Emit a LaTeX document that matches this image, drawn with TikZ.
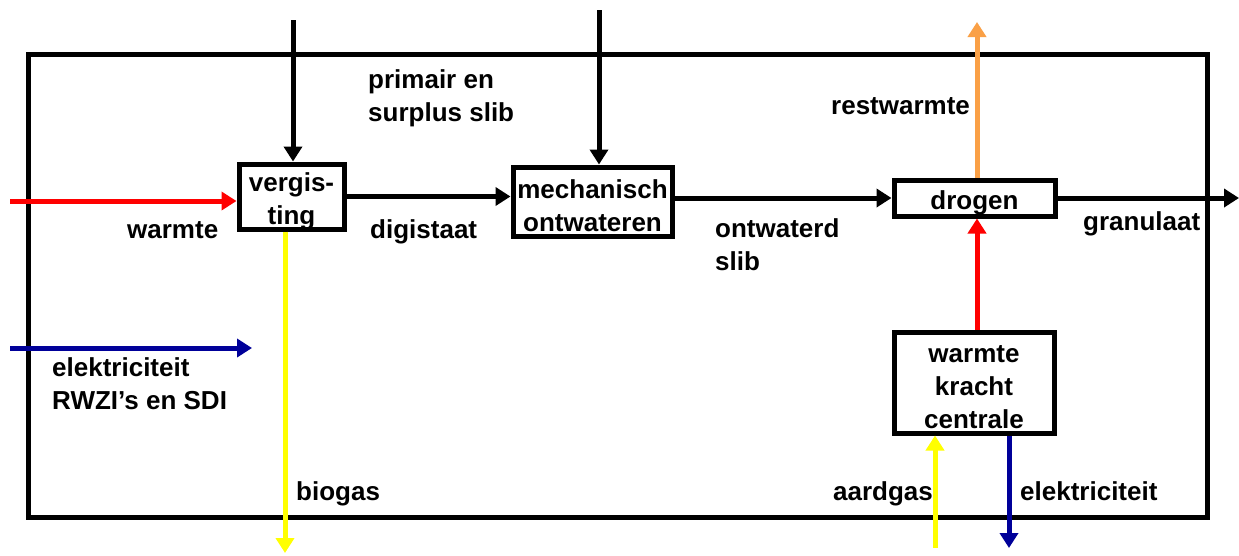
\documentclass[tikz,border=0pt]{standalone}
\usepackage{fontspec}
\setmainfont{Liberation Sans}
\usetikzlibrary{arrows.meta}
\definecolor{cred}{RGB}{255,0,0}
\definecolor{cyel}{RGB}{255,255,0}
\definecolor{cblue}{RGB}{0,0,153}
\definecolor{corange}{RGB}{250,160,70}
\begin{document}
\begin{tikzpicture}[x=1pt,y=-1pt,
  every node/.style={font=\fontsize{26}{33}\selectfont\bfseries},
  box/.style={draw,line width=5pt,inner sep=0pt},
  boxtext/.style={inner sep=0pt,align=center,yshift=-4.5pt},
  flow/.style={line width=5pt,-{Triangle[length=15pt,width=18pt]}},
  lbl/.style={anchor=base west,inner sep=0pt}]
\useasboundingbox (0,0) rectangle (1239,555);
\fill[white] (0,0) rectangle (1239,555);
% frame
\draw[line width=5pt] (28,54) rectangle (1207,517);
% boxes
\node[box,minimum width=105pt,minimum height=65pt] (verg) at (291.5,196.5) {};
\node[boxtext] (vergt) at (verg.center) {vergis-\\ting};
\node[box,minimum width=159pt,minimum height=69pt] (mech) at (592.5,201.5) {};
\node[boxtext] (mecht) at (mech.center) {mechanisch\\ontwateren};
\node[box,minimum width=161pt,minimum height=36pt] (drog) at (974.5,198) {};
\node[boxtext] (drogt) at (drog.center) {drogen};
\node[box,minimum width=160pt,minimum height=101pt] (wkk) at (974,382.5) {};
\node[boxtext] (wkkt) at (wkk.center) {warmte\\kracht\\centrale};
% free ends
\coordinate (inA) at (293,20);
\coordinate (inB) at (599,10);
\coordinate (wIn) at (10,201);
\coordinate (eIn) at (10,348);
\coordinate (eEnd) at (252,348);
\coordinate (bio) at (285,553);
\coordinate (gOut) at (1239,198);
\coordinate (rOut) at (977,22);
\coordinate (aIn) at (935,548);
\coordinate (eOut) at (1009,548);
% connectors
\draw[flow] (inA) -- (inA |- verg.north);
\draw[flow] (inB) -- (inB |- mech.north);
\draw[flow,cred] (wIn) -- (wIn -| verg.west);
\draw[flow] (verg.east) -- (verg.east -| mech.west);
\draw[flow] (mech.east |- drog.west) -- (drog.west);
\draw[flow] (drog.east) -- (gOut);
\draw[flow,corange] (rOut |- drog.north) -- (rOut);
\draw[flow,cred] (rOut |- wkk.north) -- (rOut |- drog.south);
\draw[flow,cyel] (aIn) -- (aIn |- wkk.south);
\draw[flow,cblue] (eOut |- wkk.south) -- (eOut);
\draw[flow,cyel] (bio |- verg.south) -- (bio);
\draw[flow,cblue] (eIn) -- (eEnd);
% labels
\node[lbl] (lw) at (127,238) {warmte};
\node[lbl] (ld) at (370,238) {digistaat};
\node[lbl,align=left] (lp) at (368,121) {primair en\\surplus slib};
\node[lbl] (lr) at (831,114) {restwarmte};
\node[lbl,align=left] (lo) at (715,270) {ontwaterd\\slib};
\node[lbl] (lg) at (1083,230) {granulaat};
\node[lbl,align=left] (le) at (52,409) {elektriciteit\\RWZI’s en SDI};
\node[lbl] (lb) at (296,500) {biogas};
\node[anchor=base east,inner sep=0pt] (la) at (933,500) {aardgas};
\node[lbl] (le2) at (1020,500) {elektriciteit};
\end{tikzpicture}
\end{document}
